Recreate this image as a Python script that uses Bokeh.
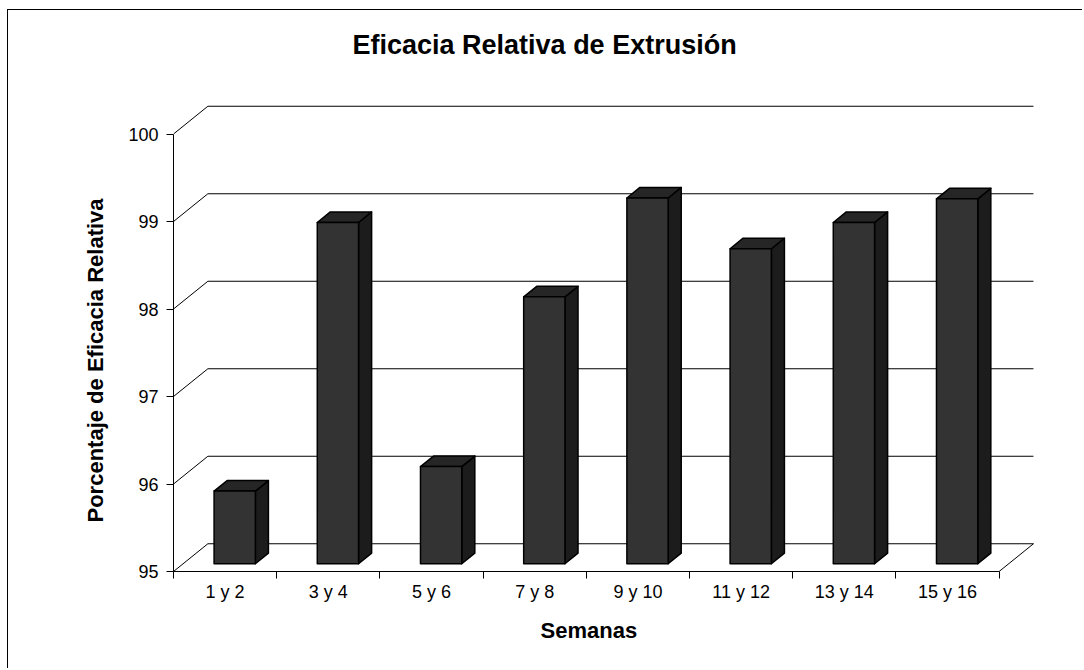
from bokeh.plotting import figure
from bokeh.models import Range1d, FixedTicker, Title
from bokeh.embed import file_html
from bokeh.resources import INLINE

# ---- data ----
categories = ["1 y 2", "3 y 4", "5 y 6", "7 y 8", "9 y 10", "11 y 12", "13 y 14", "15 y 16"]
values = [95.83, 98.90, 96.11, 98.05, 99.18, 98.60, 98.90, 99.17]
y_ticks = [95, 96, 97, 98, 99, 100]
title_text = "Eficacia Relativa de Extrusión"
y_label = "Porcentaje de Eficacia Relativa"
x_label = "Semanas"

# ---- 3D look (in data units) ----
NCAT = len(categories)
YMIN, YMAX = 95, 100
DX, DY = 0.333, 0.317      # full depth of the floor/walls
F1, F2 = 0.28, 0.38         # bar front plane, bar depth (fractions of full depth)
BAR_W = 0.4

FONT = "Liberation Sans"

W, H = 1075, 659
p = figure(width=W, height=H, output_backend="svg", toolbar_location=None,
           x_range=Range1d(0, 861 / 103.2), y_range=Range1d(YMIN, YMIN + 471 / 87.5),
           min_border_left=165, min_border_top=90, min_border_bottom=H - 90 - 471,
           min_border_right=W - 165 - 861,
           background_fill_color="white", border_fill_color="white")
p.margin = (9, 0, 0, 7)
p.styles = {"border-left": "1px solid black", "border-top": "1px solid black"}
p.outline_line_color = None
p.grid.visible = False

# spacer between the frame and the chart title (pushes the title upward)
p.add_layout(Title(text=" ", text_font_size="1px", standoff=36), "above")

# chart title
p.title.text = title_text
p.title.align = "left"
p.title.offset = 179
p.title.text_font = FONT
p.title.text_font_size = "27px"
p.title.text_font_style = "bold"
p.title.text_color = "black"
p.title.standoff = 4

# walls / gridlines
gx, gy = [], []
for v in y_ticks:
    gx.append([0, DX, NCAT + DX])
    gy.append([v, v + DY, v + DY])
gx.append([NCAT + DX, NCAT])
gy.append([YMIN + DY, YMIN])
p.multi_line(xs=gx, ys=gy, line_color="black", line_width=1)

# bars
fx0, fx1, fyb, fyt = [], [], [], []
top_xs, top_ys, side_xs, side_ys = [], [], [], []
ox, oy = F2 * DX, F2 * DY
for i, v in enumerate(values):
    c = i + 0.5
    x0 = c - BAR_W / 2 + F1 * DX
    x1 = x0 + BAR_W
    yb = YMIN + F1 * DY
    yt = v + F1 * DY
    fx0.append(x0); fx1.append(x1); fyb.append(yb); fyt.append(yt)
    top_xs.append([x0, x0 + ox, x1 + ox, x1])
    top_ys.append([yt, yt + oy, yt + oy, yt])
    side_xs.append([x1, x1 + ox, x1 + ox, x1])
    side_ys.append([yb, yb + oy, yt + oy, yt])

p.patches(xs=side_xs, ys=side_ys, fill_color="#1c1c1c", line_color="black",
          line_width=1.5, line_join="round")
p.patches(xs=top_xs, ys=top_ys, fill_color="#262626", line_color="black",
          line_width=1.5, line_join="round")
p.quad(left=fx0, right=fx1, bottom=fyb, top=fyt, fill_color="#333333",
       line_color="black", line_width=1.5, line_join="round")

# y axis
ya = p.yaxis[0]
ya.ticker = FixedTicker(ticks=y_ticks)
ya.bounds = (YMIN, YMAX)
ya.major_tick_out = 7
ya.major_tick_in = 0
ya.minor_tick_line_color = None
ya.axis_line_color = "black"
ya.major_tick_line_color = "black"
ya.major_label_text_font = FONT
ya.major_label_text_font_size = "18px"
ya.major_label_text_color = "black"
ya.major_label_standoff = 8

# x axis
xa = p.xaxis[0]
centers = [i + 0.5 for i in range(NCAT)]
xa.ticker = FixedTicker(ticks=centers, minor_ticks=list(range(NCAT + 1)))
xa.major_label_overrides = {c: lab for c, lab in zip(centers, categories)}
xa.bounds = (0, NCAT)
xa.major_tick_line_color = None
xa.major_tick_out = 0
xa.major_tick_in = 0
xa.minor_tick_out = 7
xa.minor_tick_in = 0
xa.minor_tick_line_color = "black"
xa.axis_line_color = "black"
xa.major_label_text_font = FONT
xa.major_label_text_font_size = "18px"
xa.major_label_text_color = "black"
xa.major_label_standoff = 3

# axis titles (placed beside the axes, centred on the axis extent)
yt_title = Title(text=y_label, align="left", offset=49, text_font=FONT,
                 text_font_size="22px", text_font_style="bold", text_color="black",
                 standoff=35)
p.add_layout(yt_title, "left")
xt_title = Title(text=x_label, align="left", offset=367, text_font=FONT,
                 text_font_size="22px", text_font_style="bold", text_color="black",
                 standoff=23)
p.add_layout(xt_title, "below")

open("out.html", "w").write(file_html(p, INLINE))
